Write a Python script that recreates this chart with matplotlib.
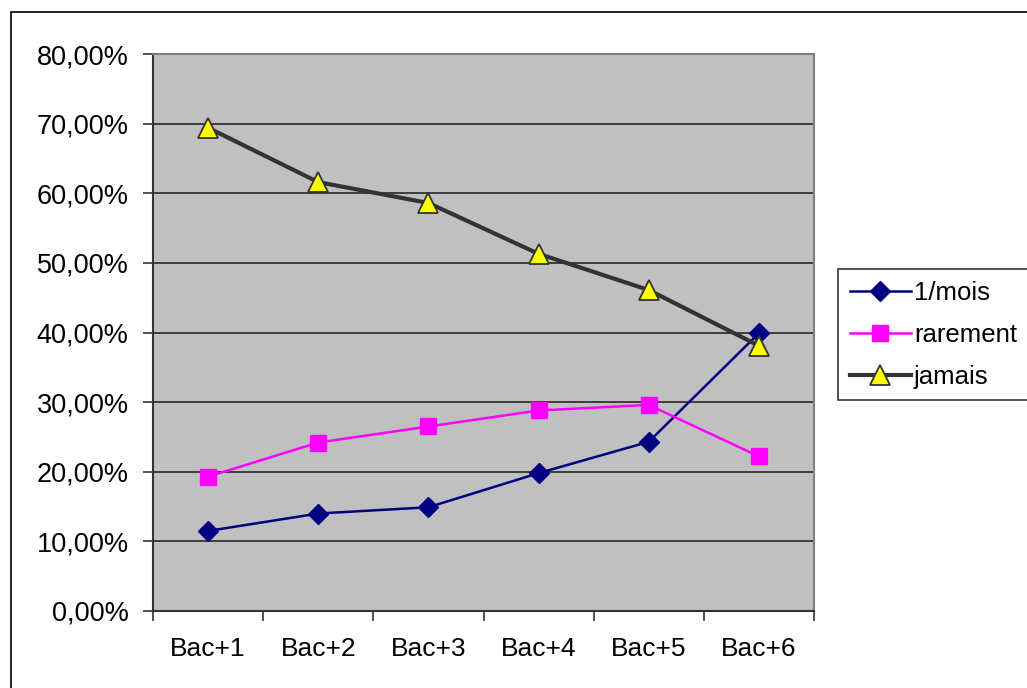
import matplotlib.pyplot as plt
import numpy as np
from matplotlib.ticker import FuncFormatter, FixedLocator
from matplotlib.patches import Rectangle

categories = ['Bac+1', 'Bac+2', 'Bac+3', 'Bac+4', 'Bac+5', 'Bac+6']
par_mois = [11.5, 14.0, 14.9, 19.8, 24.3, 39.9]
rarement = [19.3, 24.2, 26.5, 28.8, 29.6, 22.2]
jamais = [69.4, 61.6, 58.6, 51.3, 46.1, 38.1]

plt.rcParams['font.family'] = ['Liberation Sans', 'DejaVu Sans']

fig = plt.figure(figsize=(10.27, 6.88), dpi=100)
ax = fig.add_axes([153 / 1027, 1 - 611 / 688, (814 - 153) / 1027, (611 - 54) / 688])
ax.set_facecolor('#C0C0C0')

# outer chart border
fig.patches.append(Rectangle((11 / 1027, -0.05), 1.1, 1 - 12 / 688 + 0.05,
                             transform=fig.transFigure, fill=False,
                             edgecolor='black', linewidth=1.2))

x = np.arange(len(categories))
ax.plot(x, par_mois, color='#000080', lw=1.8, marker='D', ms=10,
        mfc='#000080', mec='#000080', label='1/mois', zorder=3)
ax.plot(x, rarement, color='#FF00FF', lw=1.8, marker='s', ms=11,
        mfc='#FF00FF', mec='#FF00FF', label='rarement', zorder=3)
ax.plot(x, jamais, color='#333333', lw=3, marker='^', ms=14,
        mfc='#FFFF00', mec='#333333', mew=1.3, label='jamais', zorder=4)

ax.set_xlim(-0.5, len(categories) - 0.5)
ax.set_ylim(0, 80)
ax.set_yticks(np.arange(0, 81, 10))
ax.yaxis.set_major_formatter(FuncFormatter(lambda v, p: f'{v:.2f}%'.replace('.', ',')))
ax.yaxis.grid(True, color='#333333', lw=1.3)
ax.set_axisbelow(True)

ax.set_xticks(x)
ax.set_xticklabels(categories)
ax.xaxis.set_minor_locator(FixedLocator(np.arange(-0.5, len(categories), 1)))
ax.tick_params(axis='x', which='major', length=0, pad=19, labelsize=19)
ax.tick_params(axis='x', which='minor', length=7, width=1.2, color='#333333')
ax.tick_params(axis='y', length=7, width=1.2, color='#333333', labelsize=19.5, pad=10.5)

for s in ['left', 'bottom']:
    ax.spines[s].set_color('#333333')
    ax.spines[s].set_linewidth(1.5)
for s in ['top', 'right']:
    ax.spines[s].set_color('#808080')
    ax.spines[s].set_linewidth(1.5)

leg = fig.legend(loc='upper left', bbox_to_anchor=(838 / 1027, 1 - 269 / 688),
                 fontsize=18.5, frameon=True, fancybox=False, edgecolor='black',
                 borderpad=0.45, handlelength=2.4, handletextpad=0.1,
                 labelspacing=0.7, borderaxespad=0)
leg._legend_box.sep = 0
leg.get_frame().set_linewidth(1.2)

fig.savefig('out.png', dpi=100)
